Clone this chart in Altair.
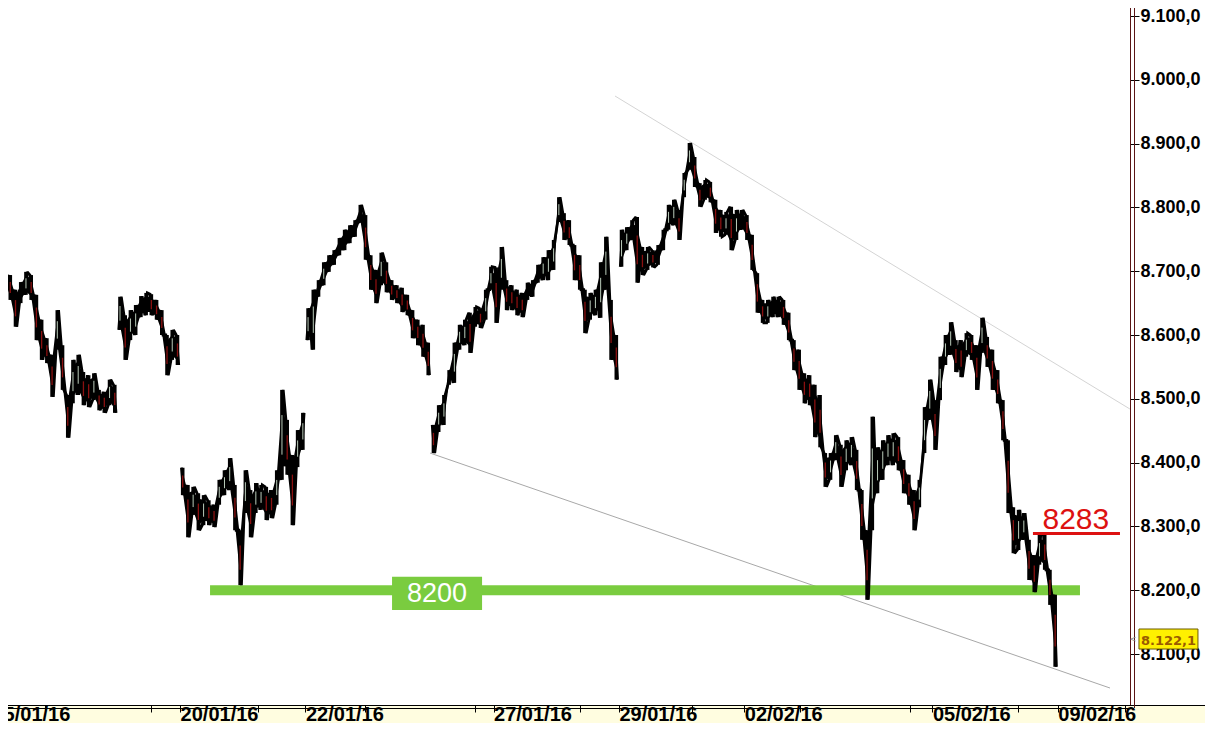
import json
import altair as alt
import pandas as pd

# ---------------- data ----------------
TICK_DAYS = [0, 3, 5, 8, 10, 12, 15, 17]
TICK_LABELS = ["15/01/16", "20/01/16", "22/01/16", "27/01/16", "29/01/16",
               "02/02/16", "05/02/16", "09/02/16"]
MINOR_TICKS = [0.847, 2.537, 4.244, 5.951, 7.705, 9.380, 11.166, 12.888,
               14.643, 16.365, 18.072]
Y_TICKS = [8100, 8200, 8300, 8400, 8500, 8600, 8700, 8800, 8900, 9000, 9100]

# trading days with an opening gap (line not joined to previous day)
GAP_DAYS = [2, 3, 5, 7, 10]

# intraday highs / lows, 12 samples per trading day
HI_D00 = [8714, 8714, 8710, 8694, 8671, 8683, 8699, 8694, 8663, 8624, 8595, 8569]
LO_D00 = [8686, 8683, 8678, 8655, 8613, 8650, 8663, 8655, 8592, 8561, 8556, 8503]
HI_D01 = [8639, 8584, 8506, 8561, 8569, 8542, 8537, 8540, 8514, 8511, 8530, 8522]
LO_D01 = [8577, 8514, 8439, 8493, 8506, 8490, 8487, 8498, 8482, 8478, 8490, 8478]
HI_D02 = [8660, 8631, 8639, 8647, 8661, 8666, 8664, 8655, 8639, 8600, 8608, 8600]
LO_D02 = [8608, 8561, 8592, 8600, 8628, 8631, 8631, 8624, 8600, 8537, 8561, 8553]
HI_D03 = [8392, 8365, 8362, 8352, 8349, 8341, 8334, 8373, 8388, 8407, 8365, 8294]
LO_D03 = [8349, 8283, 8318, 8294, 8302, 8302, 8299, 8334, 8349, 8357, 8294, 8208]
HI_D04 = [8388, 8357, 8368, 8365, 8362, 8357, 8388, 8514, 8467, 8412, 8451, 8478]
LO_D04 = [8321, 8283, 8321, 8326, 8310, 8313, 8334, 8373, 8381, 8302, 8393, 8420]
HI_D05 = [8642, 8671, 8686, 8714, 8725, 8733, 8752, 8765, 8772, 8780, 8804, 8788]
LO_D05 = [8592, 8577, 8660, 8678, 8699, 8710, 8725, 8733, 8744, 8754, 8776, 8718]
HI_D06 = [8725, 8702, 8729, 8714, 8686, 8678, 8674, 8663, 8639, 8624, 8616, 8588]
LO_D06 = [8671, 8650, 8678, 8667, 8655, 8650, 8636, 8631, 8595, 8584, 8566, 8537]
HI_D07 = [8459, 8490, 8506, 8545, 8588, 8616, 8624, 8635, 8644, 8642, 8671, 8707]
LO_D07 = [8415, 8448, 8459, 8522, 8525, 8577, 8584, 8572, 8613, 8611, 8624, 8671]
HI_D08 = [8706, 8738, 8686, 8678, 8671, 8666, 8682, 8686, 8710, 8722, 8733, 8749]
LO_D08 = [8619, 8671, 8639, 8639, 8631, 8628, 8655, 8660, 8682, 8686, 8686, 8702]
HI_D09 = [8816, 8791, 8780, 8741, 8725, 8671, 8666, 8671, 8714, 8754, 8655, 8600]
LO_D09 = [8777, 8749, 8741, 8686, 8671, 8603, 8624, 8631, 8627, 8671, 8561, 8530]
HI_D10 = [8765, 8769, 8780, 8785, 8738, 8738, 8733, 8741, 8765, 8804, 8812, 8796]
LO_D10 = [8707, 8733, 8749, 8682, 8694, 8702, 8706, 8710, 8733, 8765, 8772, 8749]
HI_D11 = [8854, 8901, 8879, 8838, 8843, 8840, 8812, 8796, 8793, 8801, 8796, 8796]
LO_D11 = [8816, 8859, 8832, 8801, 8812, 8808, 8760, 8754, 8757, 8733, 8749, 8765]
HI_D12 = [8788, 8757, 8697, 8655, 8655, 8660, 8660, 8655, 8635, 8592, 8577, 8540]
LO_D12 = [8749, 8702, 8635, 8619, 8619, 8628, 8628, 8616, 8592, 8545, 8514, 8493]
HI_D13 = [8537, 8522, 8506, 8415, 8415, 8443, 8428, 8435, 8440, 8420, 8357, 8294]
LO_D13 = [8490, 8440, 8424, 8362, 8373, 8404, 8362, 8388, 8396, 8357, 8279, 8185]
HI_D14 = [8472, 8424, 8435, 8443, 8446, 8440, 8404, 8381, 8357, 8373, 8487, 8530]
LO_D14 = [8294, 8352, 8373, 8396, 8396, 8388, 8352, 8334, 8294, 8330, 8415, 8467]
HI_D15 = [8498, 8566, 8600, 8620, 8592, 8592, 8603, 8600, 8584, 8627, 8597, 8577]
LO_D15 = [8420, 8498, 8553, 8569, 8542, 8534, 8566, 8561, 8514, 8572, 8550, 8514]
HI_D16 = [8545, 8498, 8435, 8330, 8326, 8321, 8279, 8255, 8287, 8287, 8232, 8193]
LO_D16 = [8493, 8435, 8321, 8258, 8263, 8279, 8216, 8197, 8240, 8232, 8177, 8080]

# trend lines (start / end in trading-day units and index points)
TREND_UP_T = [9.938, 18.151]
TREND_UP_V = [8974.6, 8484.0]
TREND_DN_T = [6.987, 17.833]
TREND_DN_V = [8415.0, 8046.7]

SUPPORT_LEVEL = 8200
SUPPORT_T = [3.478, 17.354]
SUPPORT_BOX_T = [6.381, 7.817]
SUPPORT_BOX_V = [8169, 8221]
SUPPORT_LABEL = "8200"

RESIST_LEVEL = 8289
RESIST_T = [16.604, 17.992]
RESIST_LABEL = "8283"

LAST_VALUE = 8122.1
LAST_LABEL = "8.122,1"
LAST_BOX_T = [18.295, 19.236]
LAST_BOX_V = [8107.8, 8139.2]

T_DOMAIN = [0.0, 18.152]
V_DOMAIN = [8020.1, 9125.1]

# ---------------- build tables ----------------
days = [(HI_D00, LO_D00), (HI_D01, LO_D01), (HI_D02, LO_D02), (HI_D03, LO_D03),
        (HI_D04, LO_D04), (HI_D05, LO_D05), (HI_D06, LO_D06), (HI_D07, LO_D07),
        (HI_D08, LO_D08), (HI_D09, LO_D09), (HI_D10, LO_D10), (HI_D11, LO_D11),
        (HI_D12, LO_D12), (HI_D13, LO_D13), (HI_D14, LO_D14), (HI_D15, LO_D15),
        (HI_D16, LO_D16)]
rows = []
for d, (hi, lo) in enumerate(days):
    n = len(hi)
    seg = sum(d >= g for g in GAP_DAYS)
    for k in range(n):
        rows.append({"t": d + (k + 0.5) / n, "hi": hi[k], "lo": lo[k], "seg": seg})
price = pd.DataFrame(rows)
rng = price["hi"] - price["lo"]
price["mid"] = (price["hi"] + price["lo"]) / 2
price["down"] = price["mid"].diff() < 0
price["c_hi"] = price["lo"] + 0.85 * rng
price["c_lo"] = price["lo"] + 0.15 * rng
price["r_hi"] = price["lo"] + 0.72 * rng
price["r_lo"] = price["lo"] + 0.28 * rng
down = price[price["down"]]
up = price[~price["down"] & (rng > 35)]

# zig-zag path through each sample's high and low (candle wicks joined)
path_rows = []
for i, r in price.iterrows():
    first, second = (r["hi"], r["lo"]) if r["down"] else (r["lo"], r["hi"])
    path_rows.append({"t": r["t"] - 0.02, "v": first, "seg": r["seg"], "o": 2 * i})
    path_rows.append({"t": r["t"] + 0.02, "v": second, "seg": r["seg"], "o": 2 * i + 1})
path = pd.DataFrame(path_rows)

xs = alt.Scale(domain=T_DOMAIN, nice=False, zero=False)
ys = alt.Scale(domain=V_DOMAIN, nice=False, zero=False)

label_expr = ("indexof({d}, datum.value) >= 0 ? {l}[indexof({d}, datum.value)] : ''"
              .format(d=json.dumps(TICK_DAYS), l=json.dumps(TICK_LABELS)))
x_axis = alt.Axis(values=TICK_DAYS + MINOR_TICKS, labelExpr=label_expr, orient="bottom",
                  domain=False, grid=False, ticks=True, tickSize=7, tickColor="#000000",
                  labelAlign="left", labelBaseline="top", labelPadding=-8,
                  labelFont="Liberation Sans", labelFontSize=20, labelFontWeight="bold",
                  labelColor="#000000", labelFlush=False, labelOverlap=False,
                  zindex=1, title=None)
y_axis = alt.Axis(values=Y_TICKS, orient="right",
                  labelExpr="replace(replace(replace(format(datum.value, ',.1f'), ',', '#'), '.', ','), '#', '.')",
                  domain=False, grid=False, tickSize=9, tickColor="#000000", labelPadding=1,
                  labelFont="Liberation Sans", labelFontSize=18, labelFontWeight="bold",
                  labelColor="#000000", labelBaseline="middle", labelAlign="left",
                  labelFlush=False, labelOverlap=False, title=None, zindex=0)

one = pd.DataFrame({"a": [0]})

band = alt.Chart(one).mark_rect(color="#FFFDE0").encode(
    x=alt.value(-20), x2=alt.value(1300), y=alt.value(706), y2=alt.value(780))
hline1 = alt.Chart(one).mark_rule(color="#000000", strokeWidth=1).encode(
    x=alt.value(-20), x2=alt.value(1300), y=alt.value(705.5))
hline2 = alt.Chart(one).mark_rule(color="#000000", strokeWidth=1).encode(
    x=alt.value(-20), x2=alt.value(1142), y=alt.value(708.5))
vline1 = alt.Chart(one).mark_rule(color="#5a1414", strokeWidth=1).encode(
    y=alt.value(-20), y2=alt.value(705), x=alt.value(1138.5))
vline2 = alt.Chart(one).mark_rule(color="#5a1414", strokeWidth=1).encode(
    y=alt.value(-20), y2=alt.value(708), x=alt.value(1142.5))

trend_up = alt.Chart(pd.DataFrame({"t": TREND_UP_T, "v": TREND_UP_V})).mark_line(
    color="#d4d4d4", strokeWidth=1).encode(
    x=alt.X("t:Q", scale=xs, axis=x_axis), y=alt.Y("v:Q", scale=ys, axis=y_axis))
trend_dn = alt.Chart(pd.DataFrame({"t": TREND_DN_T, "v": TREND_DN_V})).mark_line(
    color="#a8a8a8", strokeWidth=1).encode(
    x=alt.X("t:Q", scale=xs, axis=x_axis), y=alt.Y("v:Q", scale=ys, axis=y_axis))

support = alt.Chart(pd.DataFrame({"t": [SUPPORT_T[0]], "t2": [SUPPORT_T[1]],
                                  "v": [SUPPORT_LEVEL]})).mark_rule(
    color="#7ACC3F", strokeWidth=10).encode(
    x=alt.X("t:Q", scale=xs, axis=x_axis), x2="t2:Q", y=alt.Y("v:Q", scale=ys, axis=y_axis))
support_box = alt.Chart(pd.DataFrame({"t": [SUPPORT_BOX_T[0]], "t2": [SUPPORT_BOX_T[1]],
                                      "v": [SUPPORT_BOX_V[0]], "v2": [SUPPORT_BOX_V[1]]})).mark_rect(
    color="#7ACC3F").encode(
    x=alt.X("t:Q", scale=xs, axis=x_axis), x2="t2:Q",
    y=alt.Y("v:Q", scale=ys, axis=y_axis), y2="v2:Q")
support_txt = alt.Chart(pd.DataFrame({"t": [sum(SUPPORT_BOX_T) / 2], "v": [SUPPORT_LEVEL],
                                      "s": [SUPPORT_LABEL]})).mark_text(
    color="#ffffff", font="Liberation Sans", fontSize=27, align="center",
    baseline="middle", dy=4).encode(
    x=alt.X("t:Q", scale=xs, axis=x_axis), y=alt.Y("v:Q", scale=ys, axis=y_axis), text="s:N")

price_core = alt.Chart(price).mark_area(color="#000000", interpolate="linear").encode(
    x=alt.X("t:Q", scale=xs, axis=x_axis), y=alt.Y("c_hi:Q", scale=ys, axis=y_axis),
    y2="c_lo:Q", detail="seg:N")
price_line = alt.Chart(path).mark_line(color="#000000", strokeWidth=2.8,
                                       strokeJoin="miter", strokeMiterLimit=2).encode(
    x=alt.X("t:Q", scale=xs, axis=x_axis), y=alt.Y("v:Q", scale=ys, axis=y_axis),
    detail="seg:N", order="o:Q")
price_rules = alt.Chart(price).mark_rule(color="#000000", strokeWidth=3.6).encode(
    x=alt.X("t:Q", scale=xs, axis=x_axis), y=alt.Y("hi:Q", scale=ys, axis=y_axis), y2="lo:Q")
price_red = alt.Chart(down).mark_rule(color="#8a1010", strokeWidth=1.3).encode(
    x=alt.X("t:Q", scale=xs, axis=x_axis), y=alt.Y("r_hi:Q", scale=ys, axis=y_axis), y2="r_lo:Q")
price_white = alt.Chart(up).mark_rule(color="#eaffea", strokeWidth=0.8).encode(
    x=alt.X("t:Q", scale=xs, axis=x_axis), y=alt.Y("r_hi:Q", scale=ys, axis=y_axis), y2="r_lo:Q")

resist = alt.Chart(pd.DataFrame({"t": [RESIST_T[0]], "t2": [RESIST_T[1]],
                                 "v": [RESIST_LEVEL]})).mark_rule(
    color="#DD1111", strokeWidth=3).encode(
    x=alt.X("t:Q", scale=xs, axis=x_axis), x2="t2:Q", y=alt.Y("v:Q", scale=ys, axis=y_axis))
resist_txt = alt.Chart(pd.DataFrame({"t": [sum(RESIST_T) / 2 - 0.01], "v": [RESIST_LEVEL],
                                     "s": [RESIST_LABEL]})).mark_text(
    color="#DD1111", font="Liberation Sans", fontSize=30, align="center",
    baseline="alphabetic", dy=-4).encode(
    x=alt.X("t:Q", scale=xs, axis=x_axis), y=alt.Y("v:Q", scale=ys, axis=y_axis), text="s:N")

last_box = alt.Chart(pd.DataFrame({"t": [LAST_BOX_T[0]], "t2": [LAST_BOX_T[1]],
                                   "v": [LAST_BOX_V[0]], "v2": [LAST_BOX_V[1]]})).mark_rect(
    fill="#FFF000", stroke="#6b5a00", strokeWidth=1).encode(
    x=alt.X("t:Q", scale=xs, axis=x_axis), x2="t2:Q",
    y=alt.Y("v:Q", scale=ys, axis=y_axis), y2="v2:Q")
last_txt = alt.Chart(pd.DataFrame({"t": [sum(LAST_BOX_T) / 2], "v": [LAST_VALUE],
                                   "s": [LAST_LABEL]})).mark_text(
    color="#9A5B00", font="DejaVu Sans", fontSize=13, fontWeight="bold",
    align="center", baseline="middle", dy=1).encode(
    x=alt.X("t:Q", scale=xs, axis=x_axis), y=alt.Y("v:Q", scale=ys, axis=y_axis), text="s:N")
last_arrow = alt.Chart(pd.DataFrame({"t": [LAST_BOX_T[0] - 0.04], "v": [LAST_VALUE],
                                     "s": ["<"]})).mark_text(
    color="#888888", font="DejaVu Sans", fontSize=8, align="right", baseline="middle").encode(
    x=alt.X("t:Q", scale=xs, axis=x_axis), y=alt.Y("v:Q", scale=ys, axis=y_axis), text="s:N")

chart = alt.layer(
    band, trend_up, trend_dn, support, support_box, support_txt,
    price_core, price_line, price_rules, price_red, price_white, resist, resist_txt,
    hline1, hline2, vline1, vline2, last_box, last_txt, last_arrow
).properties(
    width=1138, height=705,
    autosize=alt.AutoSizeParams(type="none"),
    padding={"left": -16, "top": -8, "right": 75, "bottom": 18},
    background="#ffffff",
).configure_view(strokeWidth=0)

chart.save("out.html", embed_options={"renderer": "svg", "actions": False})
